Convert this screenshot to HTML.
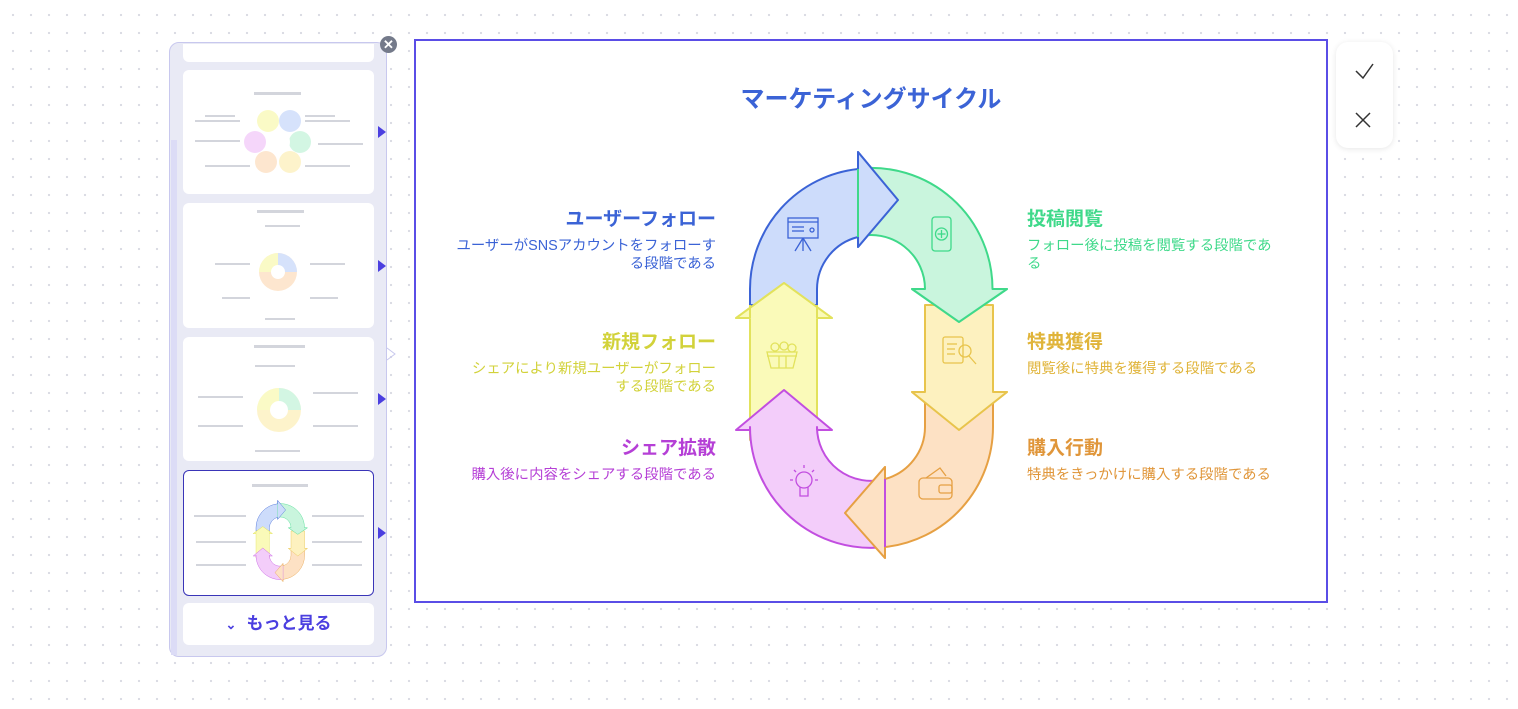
<!DOCTYPE html>
<html><head><meta charset="utf-8"><style>
*{margin:0;padding:0;box-sizing:border-box}
body{width:1518px;height:709px;position:relative;overflow:hidden;background:#fff;
background-image:radial-gradient(circle,#d9dae2 1px,transparent 1.3px);background-size:18px 18px;background-position:4px 6px;
font-family:"Liberation Sans","Noto Sans CJK JP",sans-serif}
.abs{position:absolute}
.panel{left:169px;top:42px;width:218px;height:615px;background:#e9eaf5;border:1px solid #c8c8ee;border-radius:10px}
.card{position:absolute;left:183px;width:191px;background:#fff;border-radius:6px}
.frame{left:414px;top:39px;width:914px;height:564px;border:2px solid #5a4de6;background:#fff}
.h{position:absolute;font-weight:bold;font-size:19px;line-height:24px}
.d{position:absolute;font-size:14.4px;line-height:18px}
.l{text-align:right;right:802px}
.r{left:1027px}
.tri{position:absolute;width:0;height:0;border-top:6px solid transparent;border-bottom:6px solid transparent;border-left:8px solid #4b3fe0}
</style></head><body>
<div class="abs panel"></div>
<div class="abs" style="left:171px;top:140px;width:6px;height:515px;background:#dcdcf6"></div>
<div class="card" style="top:44px;height:18px;border-radius:0 0 6px 6px"></div>
<div class="card" style="top:70px;height:124px"></div>
<div class="card" style="top:203px;height:125px"></div>
<div class="card" style="top:337px;height:124px"></div>
<div class="card" style="top:470px;height:126px;border:1.5px solid #3a35b8"></div>
<div class="card" style="top:603px;height:42px;text-align:center;font-weight:bold;color:#4b3fe0;font-size:17px;line-height:42px"><span style="font-size:13px;margin-right:10px">⌄</span>もっと見る</div>
<div class="tri" style="left:378px;top:126px"></div>
<div class="tri" style="left:378px;top:260px"></div>
<div class="tri" style="left:378px;top:393px"></div>
<div class="tri" style="left:378px;top:527px"></div>
<div class="abs" style="left:380px;top:36px;width:17px;height:17px;border-radius:50%;background:#747a8a;color:#fff;font-size:13px;line-height:17px;text-align:center;font-weight:bold">✕</div>

<div class="abs frame"></div>
<div class="abs" style="left:1336px;top:42px;width:57px;height:106px;background:#fff;border-radius:12px;box-shadow:0 1px 6px rgba(0,0,0,.1)"></div>

<svg class="abs" style="left:0;top:0" width="1518" height="709" viewBox="0 0 1518 709">
<defs>
<g id="cyc" stroke-width="2" stroke-linejoin="round">
<path d="M750,305 L750,289 A121,121 0 0 1 858,169 L858,152 L898,200 L858,247 L858,237 A54,54 0 0 0 817,289 L817,305 Z" fill="#cddcfb" stroke="#3b63d6"/>
<path d="M858,168.7 A121,121 0 0 1 992.5,289 L1007,289 L959,322 L912,289 L925,289 A54,54 0 0 0 858,236.6 Z" fill="#c9f5dd" stroke="#3fd98a"/>
<path d="M925,305 L993,305 L993,392 L1007,392 L959,430 L912,392 L925,392 Z" fill="#fdf1bf" stroke="#e8c44c"/>
<path d="M925,402 L925,427 A54,54 0 0 1 885,479 L885,467 L845,513 L885,558 L885,547 A121,121 0 0 0 993,427 L993,402 Z" fill="#fde1c4" stroke="#e6a043"/>
<path d="M750,440 L750,318 L736,318 L784,283 L832,318 L817,318 L817,440 Z" fill="#fafab9" stroke="#e2e25c"/>
<path d="M885,479 A54,54 0 0 1 817,427 L817,430 L832,430 L784,390 L736,430 L750,430 L750,427 A121,121 0 0 0 885,547 Z" fill="#f3cdfa" stroke="#c24ee0"/>
<path d="M859,170 L859,153 L897,200 L859,246 L859,236 Z" fill="#cddcfb"/>
<polyline points="858,169 858,152 898,200 858,247 858,237" fill="none" stroke="#3b63d6"/>
<path d="M913,290 L1006,290 L959,321 Z" fill="#c9f5dd"/>
<polyline points="992.5,289 1007,289 959,322 912,289 925,289" fill="none" stroke="#3fd98a"/>
<path d="M913,393 L1006,393 L959,429 Z" fill="#fdf1bf"/>
<polyline points="925,392 912,392 959,430 1007,392 993,392" fill="none" stroke="#e8c44c"/>
<path d="M884,468 L846,513 L884,557 Z" fill="#fde1c4"/>
<polyline points="885,479 885,467 845,513 885,558 885,547" fill="none" stroke="#e6a043"/>
<path d="M737,319 L784,284 L831,319 Z" fill="#fafab9"/>
<polyline points="750,305 750,318 736,318 784,283 832,318 817,318 817,305" fill="none" stroke="#e2e25c"/>
</g>
</defs>
<use href="#cyc"/>
<g transform="translate(106,470) scale(0.2)"><use href="#cyc"/></g>
<g fill="none" stroke-width="1.3">
<g stroke="#3b63d6"><rect x="788" y="218" width="30" height="20"/><line x1="788" y1="222" x2="818" y2="222"/><line x1="792" y1="227" x2="804" y2="227"/><line x1="792" y1="231" x2="804" y2="231"/><circle cx="812" cy="230" r="2"/><line x1="803" y1="238" x2="795" y2="251"/><line x1="803" y1="238" x2="811" y2="251"/><line x1="803" y1="238" x2="803" y2="251"/></g>
<g stroke="#3fd98a"><rect x="932" y="217" width="19" height="34" rx="3"/><circle cx="941.5" cy="234" r="6"/><line x1="941.5" y1="230" x2="941.5" y2="238"/><line x1="937.5" y1="234" x2="945.5" y2="234"/></g>
<g stroke="#e8c44c"><rect x="943" y="337" width="20" height="26" rx="2"/><line x1="947" y1="344" x2="957" y2="344"/><line x1="947" y1="349" x2="955" y2="349"/><line x1="947" y1="354" x2="955" y2="354"/><circle cx="965" cy="351" r="6"/><line x1="969" y1="356" x2="976" y2="364"/></g>
<g stroke="#e6a043"><rect x="919" y="478" width="33" height="21" rx="4"/><rect x="939" y="485" width="13" height="8" rx="2"/><path d="M926,478 L940,468 L946,476"/></g>
<g stroke="#c24ee0"><circle cx="804" cy="480" r="8"/><path d="M800,487 L800,496 L808,496 L808,487"/><line x1="804" y1="465" x2="804" y2="468"/><line x1="790" y1="480" x2="793" y2="480"/><line x1="815" y1="480" x2="818" y2="480"/><line x1="794" y1="470" x2="796" y2="472"/><line x1="814" y1="470" x2="812" y2="472"/></g>
<g stroke="#e2e25c"><path d="M767,352 L797,352 L793,368 L771,368 Z"/><line x1="767" y1="356" x2="797" y2="356"/><circle cx="775" cy="347" r="4"/><circle cx="784" cy="346" r="4"/><circle cx="792" cy="348" r="4"/><line x1="779" y1="356" x2="779" y2="368"/><line x1="786" y1="356" x2="786" y2="368"/></g>
</g>
<g fill="#d3d5dc">
<rect x="254" y="92" width="47" height="3"/><rect x="257" y="210" width="47" height="3"/><rect x="254" y="345" width="51" height="3"/><rect x="252" y="484" width="56" height="3"/>
<rect x="205" y="115" width="30" height="2"/><rect x="195" y="120" width="45" height="2"/><rect x="305" y="115" width="30" height="2"/><rect x="305" y="120" width="45" height="2"/><rect x="195" y="140" width="45" height="2"/><rect x="318" y="143" width="45" height="2"/><rect x="205" y="165" width="45" height="2"/><rect x="305" y="165" width="45" height="2"/>
<rect x="265" y="225" width="35" height="2"/><rect x="215" y="263" width="35" height="2"/><rect x="310" y="263" width="35" height="2"/><rect x="222" y="297" width="28" height="2"/><rect x="310" y="297" width="28" height="2"/><rect x="265" y="318" width="30" height="2"/>
<rect x="255" y="365" width="40" height="2"/><rect x="198" y="396" width="45" height="2"/><rect x="313" y="392" width="45" height="2"/><rect x="198" y="425" width="45" height="2"/><rect x="313" y="425" width="45" height="2"/><rect x="255" y="450" width="45" height="2"/>
<rect x="194" y="515" width="52" height="2"/><rect x="312" y="515" width="52" height="2"/><rect x="196" y="541" width="50" height="2"/><rect x="312" y="541" width="50" height="2"/><rect x="196" y="564" width="50" height="2"/><rect x="312" y="564" width="50" height="2"/>
</g>
<g opacity="0.8">
<circle cx="268" cy="121" r="11" fill="#fafab9"/><circle cx="290" cy="121" r="11" fill="#cddcfb"/><circle cx="300" cy="142" r="11" fill="#c9f5dd"/><circle cx="290" cy="162" r="11" fill="#fdf1bf"/><circle cx="266" cy="162" r="11" fill="#fde1c4"/><circle cx="255" cy="142" r="11" fill="#f3cdfa"/>
<circle cx="278" cy="142" r="12" fill="#fff"/>
<circle cx="278" cy="272" r="19" fill="#fde1c4"/><path d="M278,272 L278,253 A19,19 0 0 1 297,272 Z" fill="#cddcfb"/><path d="M278,272 L259,272 A19,19 0 0 1 278,253 Z" fill="#fafab9"/><circle cx="278" cy="272" r="7" fill="#fff"/>
<circle cx="279" cy="410" r="22" fill="#fdf1bf"/><path d="M279,410 L279,388 A22,22 0 0 1 301,410 Z" fill="#c9f5dd"/><path d="M279,410 L257,410 A22,22 0 0 1 279,388 Z" fill="#fafab9"/><circle cx="279" cy="410" r="9" fill="#fff"/>
</g>
<polyline points="1356,71 1363,78 1373,64" fill="none" stroke="#333" stroke-width="1.5"/>
<path d="M1356,113 L1370,127 M1370,113 L1356,127" stroke="#333" stroke-width="1.5"/>
<path d="M387,348 L395,354 L387,360" fill="none" stroke="#c8c8ee" stroke-width="1"/>
</svg>

<div class="abs" style="left:414px;width:914px;top:79px;text-align:center;font-weight:bold;font-size:24px;color:#3b63d6">マーケティングサイクル</div>
<div class="h l" style="top:208px;color:#3b63d6">ユーザーフォロー</div>
<div class="d l" style="top:237px;color:#3b63d6">ユーザーがSNSアカウントをフォローす<br>る段階である</div>
<div class="h l" style="top:331px;color:#d2d23a">新規フォロー</div>
<div class="d l" style="top:360px;color:#d2d23a">シェアにより新規ユーザーがフォロー<br>する段階である</div>
<div class="h l" style="top:437px;color:#b53fd6">シェア拡散</div>
<div class="d l" style="top:466px;color:#b53fd6">購入後に内容をシェアする段階である</div>
<div class="h r" style="top:208px;color:#3fd98a">投稿閲覧</div>
<div class="d r" style="top:237px;color:#3fd98a">フォロー後に投稿を閲覧する段階であ<br>る</div>
<div class="h r" style="top:331px;color:#e0b43a">特典獲得</div>
<div class="d r" style="top:360px;color:#e0b43a">閲覧後に特典を獲得する段階である</div>
<div class="h r" style="top:437px;color:#e0963a">購入行動</div>
<div class="d r" style="top:466px;color:#e0963a">特典をきっかけに購入する段階である</div>
</body></html>
